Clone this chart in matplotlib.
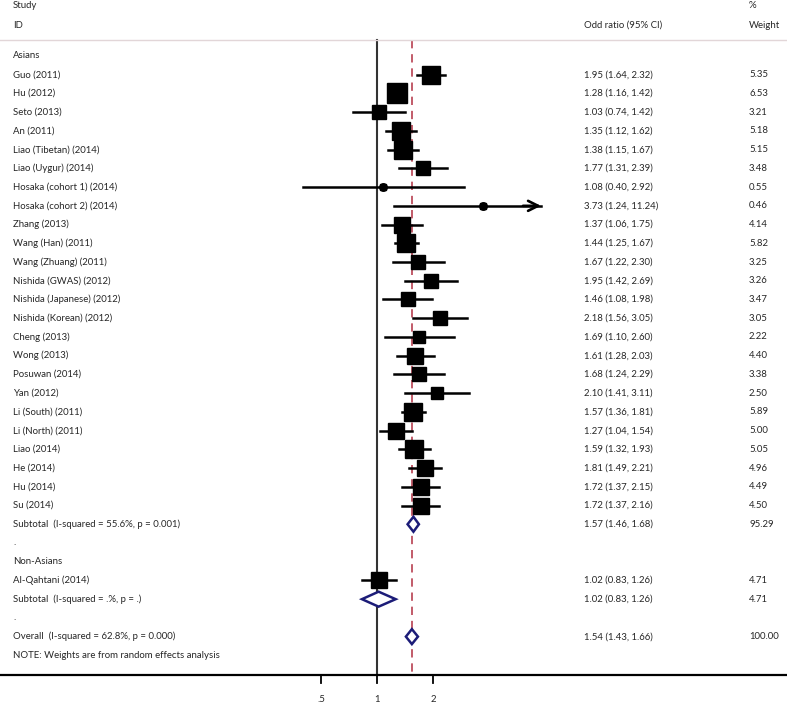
import matplotlib.pyplot as plt
import matplotlib.transforms as mtransforms
from matplotlib.patches import Polygon
import numpy as np

plt.rcParams['font.family'] = ['Lato', 'DejaVu Sans']

# study level data (Asians)
asian_names = ["Guo (2011)", "Hu (2012)", "Seto (2013)", "An (2011)", "Liao (Tibetan) (2014)",
               "Liao (Uygur) (2014)", "Hosaka (cohort 1) (2014)", "Hosaka (cohort 2) (2014)",
               "Zhang (2013)", "Wang (Han) (2011)", "Wang (Zhuang) (2011)", "Nishida (GWAS) (2012)",
               "Nishida (Japanese) (2012)", "Nishida (Korean) (2012)", "Cheng (2013)", "Wong (2013)",
               "Posuwan (2014)", "Yan (2012)", "Li (South) (2011)", "Li (North) (2011)",
               "Liao (2014)", "He (2014)", "Hu (2014)", "Su (2014)"]
asian_or = [1.95, 1.28, 1.03, 1.35, 1.38, 1.77, 1.08, 3.73, 1.37, 1.44, 1.67, 1.95,
            1.46, 2.18, 1.69, 1.61, 1.68, 2.10, 1.57, 1.27, 1.59, 1.81, 1.72, 1.72]
asian_lo = [1.64, 1.16, 0.74, 1.12, 1.15, 1.31, 0.40, 1.24, 1.06, 1.25, 1.22, 1.42,
            1.08, 1.56, 1.10, 1.28, 1.24, 1.41, 1.36, 1.04, 1.32, 1.49, 1.37, 1.37]
asian_hi = [2.32, 1.42, 1.42, 1.62, 1.67, 2.39, 2.92, 11.24, 1.75, 1.67, 2.30, 2.69,
            1.98, 3.05, 2.60, 2.03, 2.29, 3.11, 1.81, 1.54, 1.93, 2.21, 2.15, 2.16]
asian_w = [5.35, 6.53, 3.21, 5.18, 5.15, 3.48, 0.55, 0.46, 4.14, 5.82, 3.25, 3.26,
           3.47, 3.05, 2.22, 4.40, 3.38, 2.50, 5.89, 5.00, 5.05, 4.96, 4.49, 4.50]

# Non-Asians
nonasian_names = ["Al-Qahtani (2014)"]
nonasian_or = [1.02]
nonasian_lo = [0.83]
nonasian_hi = [1.26]
nonasian_w = [4.71]

# pooled estimates: (label, or, lo, hi, weight)
sub_asian = ("Subtotal  (I-squared = 55.6%, p = 0.001)", 1.57, 1.46, 1.68, 95.29)
sub_nonasian = ("Subtotal  (I-squared = .%, p = .)", 1.02, 0.83, 1.26, 4.71)
overall = ("Overall  (I-squared = 62.8%, p = 0.000)", 1.54, 1.43, 1.66, 100.00)

xticks = [0.5, 1, 2]
xtick_labels = [".5", "1", "2"]

W, H = 787, 706
fig = plt.figure(figsize=(W / 100, H / 100), dpi=100)
ax = fig.add_axes([0, 0, 1, 1])
ax.set_xscale('log', base=2)
px_per_unit = 56.0
x_null_px = 377.0
ax.set_xlim(2 ** (-x_null_px / px_per_unit), 2 ** ((W - x_null_px) / px_per_unit))
row_px = 18.73
row0_px = 56.0
ax.set_ylim((H - row0_px) / row_px, -row0_px / row_px)
ax.axis('off')

tc = '#262626'
fs = 6.9
blend = mtransforms.blended_transform_factory(ax.transAxes, ax.transData)
x_lab = 13 / W
x_or = 584 / W
x_w = 749 / W

top_row = -0.85
axis_row = 33.07

# headers
ax.text(x_lab, -2.67, "Study", transform=blend, fontsize=fs, color=tc, va='center')
ax.text(x_lab, -1.65, "ID", transform=blend, fontsize=fs, color=tc, va='center')
ax.text(x_or, -1.65, "Odd ratio (95% CI)", transform=blend, fontsize=fs, color=tc, va='center')
ax.text(x_w, -2.67, "%", transform=blend, fontsize=fs, color=tc, va='center')
ax.text(x_w, -1.65, "Weight", transform=blend, fontsize=fs, color=tc, va='center')
ax.plot([0, 1], [top_row, top_row], transform=blend, color='#e2d6d8', lw=1.0)

# reference lines
ax.plot([1, 1], [top_row, axis_row], color='#333333', lw=1.5, zorder=1)
ax.plot([overall[1], overall[1]], [top_row, axis_row], color='#b84050', lw=1.2,
        dashes=(5, 3.5), zorder=1)

# bottom axis
ax.plot([0, 1], [axis_row, axis_row], transform=blend, color='black', lw=1.6)
for t, lab in zip(xticks, xtick_labels):
    ax.plot([t, t], [axis_row, axis_row + 0.42], color='black', lw=1.3)
    ax.text(t, 34.33, lab, fontsize=fs, color=tc, ha='center', va='center')

xmax = 2 ** ((541 - x_null_px) / px_per_unit)
k = 5.45  # box side in points per sqrt(weight)


def draw_study(row, name, o, lo, hi, w):
    ax.text(x_lab, row, name, transform=blend, fontsize=fs, color=tc, va='center')
    ax.text(x_or, row, f"{o:.2f} ({lo:.2f}, {hi:.2f})", transform=blend,
            fontsize=fs, color=tc, va='center')
    ax.text(x_w, row, f"{w:.2f}", transform=blend, fontsize=fs, color=tc, va='center')
    if hi > xmax:
        ax.plot([lo, xmax], [row, row], color='black', lw=1.8, zorder=2)
        ax.annotate('', xy=(xmax, row), xytext=(xmax * 0.8, row),
                    arrowprops=dict(arrowstyle='->', lw=1.9, color='black',
                                    mutation_scale=18, shrinkA=0, shrinkB=0))
    else:
        ax.plot([lo, hi], [row, row], color='black', lw=1.8, zorder=2)
    ax.plot(o, row, marker='s', ms=k * np.sqrt(w), color='black', zorder=3)
    ax.plot(o, row, marker='o', ms=5.4, color='black', zorder=4)


def draw_pooled(row, est):
    label, o, lo, hi, w = est
    ax.text(x_lab, row, label, transform=blend, fontsize=fs, color=tc, va='center')
    ax.text(x_or, row, f"{o:.2f} ({lo:.2f}, {hi:.2f})", transform=blend,
            fontsize=fs, color=tc, va='center')
    ax.text(x_w, row, f"{w:.2f}", transform=blend, fontsize=fs, color=tc, va='center')
    h = 0.4
    dia = Polygon([(lo, row), (o, row - h), (hi, row), (o, row + h)], closed=True,
                  facecolor='white', edgecolor='#1c1c78', lw=1.8, zorder=3)
    ax.add_patch(dia)


row = 0
ax.text(x_lab, row, "Asians", transform=blend, fontsize=fs, color=tc, va='center')
for i in range(len(asian_names)):
    row += 1
    draw_study(row, asian_names[i], asian_or[i], asian_lo[i], asian_hi[i], asian_w[i])
row += 1
draw_pooled(row, sub_asian)
row += 1
ax.text(x_lab, row, ".", transform=blend, fontsize=fs, color=tc, va='center')
row += 1
ax.text(x_lab, row, "Non-Asians", transform=blend, fontsize=fs, color=tc, va='center')
for i in range(len(nonasian_names)):
    row += 1
    draw_study(row, nonasian_names[i], nonasian_or[i], nonasian_lo[i], nonasian_hi[i],
               nonasian_w[i])
row += 1
draw_pooled(row, sub_nonasian)
row += 1
ax.text(x_lab, row, ".", transform=blend, fontsize=fs, color=tc, va='center')
row += 1
draw_pooled(row, overall)
row += 1
ax.text(x_lab, row, "NOTE: Weights are from random effects analysis", transform=blend,
        fontsize=fs, color=tc, va='center')

fig.savefig("out.png", dpi=100)
